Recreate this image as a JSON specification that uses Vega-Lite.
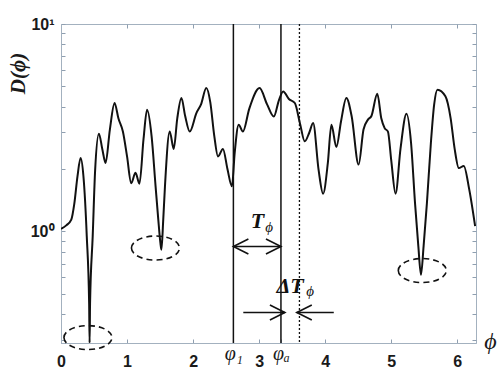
{
  "$schema": "https://vega.github.io/schema/vega-lite/v6.json",
  "width": 415,
  "height": 319,
  "autosize": "none",
  "padding": {"left": 61, "top": 24, "right": 25, "bottom": 30},
  "background": "white",
  "config": {
    "view": {"stroke": "#a3b1bf", "strokeWidth": 1},
    "axis": {
      "grid": false,
      "domainColor": "#a3b1bf",
      "tickColor": "#8f9fb0",
      "tickSize": -4,
      "labelFont": "Liberation Sans",
      "labelFontWeight": "bold",
      "labelFontSize": 16,
      "labelColor": "#1a1a1a"
    }
  },
  "datasets": {
    "curve": [
      {"phi": 0.0, "d": 1.03}, {"phi": 0.08, "d": 1.07}, {"phi": 0.156, "d": 1.14}, {"phi": 0.2, "d": 1.35},
      {"phi": 0.25, "d": 1.85}, {"phi": 0.297, "d": 2.26}, {"phi": 0.34, "d": 1.84}, {"phi": 0.39, "d": 0.95},
      {"phi": 0.426, "d": 0.45}, {"phi": 0.433, "d": 0.29}, {"phi": 0.44, "d": 0.45}, {"phi": 0.48, "d": 0.95},
      {"phi": 0.517, "d": 1.98}, {"phi": 0.574, "d": 2.96}, {"phi": 0.625, "d": 2.5}, {"phi": 0.675, "d": 2.14},
      {"phi": 0.74, "d": 3.1}, {"phi": 0.811, "d": 4.16}, {"phi": 0.87, "d": 3.5}, {"phi": 0.937, "d": 3.03},
      {"phi": 1.0, "d": 2.3}, {"phi": 1.063, "d": 1.71}, {"phi": 1.128, "d": 1.92}, {"phi": 1.188, "d": 1.7},
      {"phi": 1.25, "d": 2.8}, {"phi": 1.303, "d": 3.86}, {"phi": 1.372, "d": 2.87}, {"phi": 1.432, "d": 1.65},
      {"phi": 1.473, "d": 1.14}, {"phi": 1.505, "d": 0.88}, {"phi": 1.52, "d": 0.816}, {"phi": 1.548, "d": 1.14},
      {"phi": 1.574, "d": 1.65}, {"phi": 1.646, "d": 3.03}, {"phi": 1.707, "d": 2.5}, {"phi": 1.76, "d": 3.5},
      {"phi": 1.823, "d": 4.4}, {"phi": 1.88, "d": 3.6}, {"phi": 1.949, "d": 3.03}, {"phi": 2.05, "d": 3.72},
      {"phi": 2.12, "d": 4.1}, {"phi": 2.2, "d": 4.91}, {"phi": 2.26, "d": 4.2}, {"phi": 2.32, "d": 2.9},
      {"phi": 2.377, "d": 2.3}, {"phi": 2.452, "d": 2.5}, {"phi": 2.52, "d": 2.0}, {"phi": 2.588, "d": 1.65},
      {"phi": 2.63, "d": 2.4}, {"phi": 2.69, "d": 3.27}, {"phi": 2.754, "d": 3.03}, {"phi": 2.85, "d": 3.9},
      {"phi": 3.006, "d": 4.91}, {"phi": 3.12, "d": 4.1}, {"phi": 3.222, "d": 3.58}, {"phi": 3.3, "d": 4.3},
      {"phi": 3.364, "d": 4.73}, {"phi": 3.45, "d": 4.35}, {"phi": 3.54, "d": 4.16}, {"phi": 3.62, "d": 3.3},
      {"phi": 3.69, "d": 2.72}, {"phi": 3.76, "d": 3.0}, {"phi": 3.817, "d": 3.33}, {"phi": 3.9, "d": 1.98},
      {"phi": 3.968, "d": 1.52}, {"phi": 4.04, "d": 2.14}, {"phi": 4.094, "d": 3.27}, {"phi": 4.169, "d": 2.55},
      {"phi": 4.24, "d": 3.4}, {"phi": 4.32, "d": 4.4}, {"phi": 4.4, "d": 3.6}, {"phi": 4.506, "d": 2.1},
      {"phi": 4.58, "d": 3.1}, {"phi": 4.648, "d": 3.46}, {"phi": 4.7, "d": 3.6}, {"phi": 4.789, "d": 4.61},
      {"phi": 4.85, "d": 3.5}, {"phi": 4.9, "d": 3.15}, {"phi": 4.95, "d": 3.03}, {"phi": 5.0, "d": 2.2},
      {"phi": 5.065, "d": 1.52}, {"phi": 5.14, "d": 2.5}, {"phi": 5.231, "d": 3.69}, {"phi": 5.3, "d": 2.67},
      {"phi": 5.36, "d": 1.37}, {"phi": 5.41, "d": 0.85}, {"phi": 5.45, "d": 0.618}, {"phi": 5.49, "d": 0.85},
      {"phi": 5.54, "d": 1.37}, {"phi": 5.6, "d": 2.67}, {"phi": 5.65, "d": 4.1}, {"phi": 5.7, "d": 4.82},
      {"phi": 5.82, "d": 4.48}, {"phi": 5.9, "d": 3.5}, {"phi": 5.96, "d": 2.5}, {"phi": 6.023, "d": 2.02},
      {"phi": 6.098, "d": 2.07}, {"phi": 6.18, "d": 1.6}, {"phi": 6.27, "d": 1.06}
    ],
    "vlines": [{"phi": 2.61}, {"phi": 3.33}],
    "dotline": [{"phi": 3.61}],
    "shafts": [
      {"x1": 2.61, "x2": 3.33, "d": 0.847},
      {"x1": 2.76, "x2": 3.39, "d": 0.407},
      {"x1": 3.57, "x2": 4.13, "d": 0.407}
    ],
    "leftheads": [{"phi": 2.61, "d": 0.847}, {"phi": 3.57, "d": 0.407}],
    "rightheads": [{"phi": 3.33, "d": 0.847}, {"phi": 3.39, "d": 0.407}],
    "ellipses": [{"phi": 0.408, "d": 0.308}, {"phi": 1.43, "d": 0.832}, {"phi": 5.47, "d": 0.648}],
    "bigtext": [{"phi": 2.976, "d": 1.042, "t": "T"}, {"phi": 3.47, "d": 0.505, "t": "ΔT"}],
    "subtext": [{"phi": 3.15, "d": 0.99, "t": "ϕ"}, {"phi": 3.77, "d": 0.49, "t": "ϕ"}]
  },
  "layer": [
    {
      "data": {"name": "curve"},
      "mark": {"type": "line", "interpolate": "monotone", "color": "#111111", "strokeWidth": 2, "clip": true},
      "encoding": {
        "x": {
          "field": "phi", "type": "quantitative",
          "scale": {"domain": [0, 6.2832], "nice": false, "zero": false},
          "axis": {
            "orient": "bottom",
            "values": [0, 1, 2, 2.61, 3, 3.33, 4, 5, 6],
            "labelExpr": "datum.value == 2.61 ? 'φ₁' : datum.value == 3.33 ? 'φₐ' : format(datum.value, 'd')",
            "labelFont": {"condition": {"test": "datum.value == 2.61 || datum.value == 3.33", "value": "Liberation Serif"}, "value": "Liberation Sans"},
            "labelFontStyle": {"condition": {"test": "datum.value == 2.61 || datum.value == 3.33", "value": "italic"}, "value": "normal"},
            "labelFontWeight": {"condition": {"test": "datum.value == 2.61 || datum.value == 3.33", "value": "normal"}, "value": "bold"},
            "labelFontSize": {"condition": {"test": "datum.value == 2.61 || datum.value == 3.33", "value": 20}, "value": 16},
            "labelBaseline": {"condition": {"test": "datum.value == 2.61 || datum.value == 3.33", "value": "middle"}, "value": "top"},
            "labelPadding": 14,
            "labelFlush": false,
            "labelOverlap": false,
            "title": "ϕ",
            "titleFont": "Liberation Serif",
            "titleFontStyle": "italic",
            "titleFontWeight": "normal",
            "titleFontSize": 24,
            "titleColor": "#1a1a1a",
            "titleX": 429,
            "titleY": -1.5,
            "titleAlign": "center",
            "titleBaseline": "middle",
            "titleAngle": 0
          }
        },
        "y": {
          "field": "d", "type": "quantitative",
          "scale": {"type": "log", "domain": [0.29, 10], "nice": false},
          "axis": {
            "orient": "left",
            "values": [0.3, 0.4, 0.5, 0.6, 0.7, 0.8, 0.9, 1, 2, 3, 4, 5, 6, 7, 8, 9, 10],
            "labelExpr": "datum.value == 1 ? '10⁰' : datum.value == 10 ? '10¹' : ''",
            "labelPadding": 11,
            "labelBaseline": "middle",
            "labelFlush": false,
            "labelOverlap": false,
            "title": "D(ϕ)",
            "titleFont": "Liberation Serif",
            "titleFontStyle": "italic",
            "titleFontWeight": "bold",
            "titleFontSize": 21,
            "titleColor": "#1a1a1a",
            "titleX": -43,
            "titleY": 49,
            "titleAngle": -90,
            "titleAlign": "center",
            "titleBaseline": "middle"
          }
        }
      }
    },
    {
      "data": {"name": "curve"},
      "mark": {"type": "point", "opacity": 0},
      "encoding": {
        "x": {
          "field": "phi", "type": "quantitative",
          "scale": {"domain": [0, 6.2832], "nice": false, "zero": false},
          "axis": {"orient": "top", "values": [1, 2, 3, 4, 5, 6], "labels": false, "domain": false, "title": null}
        },
        "y": {
          "field": "d", "type": "quantitative",
          "scale": {"type": "log", "domain": [0.29, 10], "nice": false},
          "axis": {"orient": "right", "values": [0.3, 0.4, 0.5, 0.6, 0.7, 0.8, 0.9, 1, 2, 3, 4, 5, 6, 7, 8, 9, 10], "labels": false, "domain": false, "title": null}
        }
      }
    },
    {
      "data": {"name": "vlines"},
      "mark": {"type": "rule", "color": "#111111", "strokeWidth": 1.5},
      "encoding": {"x": {"field": "phi", "type": "quantitative", "axis": null}}
    },
    {
      "data": {"name": "dotline"},
      "mark": {"type": "rule", "color": "#111111", "strokeWidth": 1.3, "strokeDash": [2, 2]},
      "encoding": {"x": {"field": "phi", "type": "quantitative", "axis": null}}
    },
    {
      "data": {"name": "shafts"},
      "mark": {"type": "rule", "color": "#111111", "strokeWidth": 1.5},
      "encoding": {
        "x": {"field": "x1", "type": "quantitative", "axis": null},
        "x2": {"field": "x2"},
        "y": {"field": "d", "type": "quantitative", "axis": null}
      }
    },
    {
      "data": {"name": "leftheads"},
      "mark": {"type": "point", "shape": "M 2 -1 L 0 0 L 2 1", "filled": false, "color": "#111111", "strokeWidth": 1.6, "size": 225, "opacity": 1},
      "encoding": {
        "x": {"field": "phi", "type": "quantitative", "axis": null},
        "y": {"field": "d", "type": "quantitative", "axis": null}
      }
    },
    {
      "data": {"name": "rightheads"},
      "mark": {"type": "point", "shape": "M -2 -1 L 0 0 L -2 1", "filled": false, "color": "#111111", "strokeWidth": 1.6, "size": 225, "opacity": 1},
      "encoding": {
        "x": {"field": "phi", "type": "quantitative", "axis": null},
        "y": {"field": "d", "type": "quantitative", "axis": null}
      }
    },
    {
      "data": {"name": "ellipses"},
      "mark": {"type": "point", "shape": "M -1 0 A 1 0.5 0 1 0 1 0 A 1 0.5 0 1 0 -1 0", "filled": false, "color": "#111111", "strokeWidth": 1.6, "strokeDash": [6, 4], "size": 2304, "opacity": 1, "clip": false},
      "encoding": {
        "x": {"field": "phi", "type": "quantitative", "axis": null},
        "y": {"field": "d", "type": "quantitative", "axis": null}
      }
    },
    {
      "data": {"name": "bigtext"},
      "mark": {"type": "text", "font": "Liberation Serif", "fontStyle": "italic", "fontWeight": "bold", "fontSize": 22, "align": "center", "baseline": "alphabetic", "color": "#111111"},
      "encoding": {
        "x": {"field": "phi", "type": "quantitative", "axis": null},
        "y": {"field": "d", "type": "quantitative", "axis": null},
        "text": {"field": "t"}
      }
    },
    {
      "data": {"name": "subtext"},
      "mark": {"type": "text", "font": "Liberation Serif", "fontStyle": "italic", "fontWeight": "normal", "fontSize": 15, "align": "center", "baseline": "alphabetic", "color": "#111111"},
      "encoding": {
        "x": {"field": "phi", "type": "quantitative", "axis": null},
        "y": {"field": "d", "type": "quantitative", "axis": null},
        "text": {"field": "t"}
      }
    }
  ],
  "resolve": {"axis": {"x": "independent", "y": "independent"}}
}
